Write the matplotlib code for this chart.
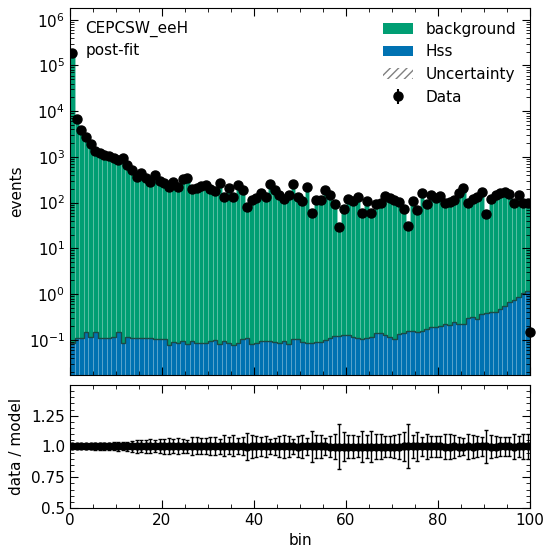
import numpy as np
import matplotlib
matplotlib.use("Agg")
import matplotlib.pyplot as plt
from matplotlib.ticker import AutoMinorLocator, FixedLocator, FixedFormatter, LogLocator, NullFormatter
from matplotlib.patches import Patch

# observed events per bin (100 bins, 0..100)
data = [190000, 6820, 3920, 2750, 1940, 1360, 1230, 1110, 1030, 955,
        865, 955, 672, 522, 367, 449, 349, 285, 406, 300,
        271, 222, 285, 222, 332, 349, 200, 211, 233, 245,
        200, 181, 271, 134, 211, 134, 245, 191, 81, 115,
        127, 164, 134, 258, 191, 148, 121, 148, 258, 134,
        109, 222, 60, 115, 115, 191, 148, 94, 30, 73,
        121, 109, 134, 60, 109, 60, 94, 99, 141, 127,
        115, 104, 73, 31, 109, 70, 164, 94, 148, 127,
        141, 99, 104, 115, 164, 211, 99, 121, 134, 172,
        57, 121, 148, 164, 172, 156, 99, 148, 99, 99]

# post-fit background prediction
background = [189990, 6815, 3915, 2748, 1938, 1359, 1229, 1109, 1029, 954,
              864, 954, 671, 521, 366, 448, 348, 284, 405, 299,
              270, 221, 284, 221, 331, 348, 199, 210, 232, 244,
              199, 180, 270, 133, 210, 133, 244, 190, 80.9, 114.9,
              126.9, 163.9, 133.9, 257.9, 190.9, 147.9, 120.9, 147.9, 257.9, 133.9,
              108.9, 221.9, 59.9, 114.9, 114.9, 190.9, 147.9, 93.9, 29.9, 72.9,
              120.9, 108.9, 133.9, 59.9, 108.9, 59.9, 93.9, 98.9, 140.9, 126.9,
              114.9, 103.9, 72.8, 30.8, 108.8, 69.8, 163.8, 93.8, 147.8, 126.8,
              140.8, 98.8, 103.8, 114.7, 163.8, 210.8, 98.7, 120.7, 133.7, 171.6,
              56.6, 120.6, 147.6, 163.5, 171.4, 155.3, 98.3, 147.1, 97.9, 97.8]

# post-fit Hss signal prediction
hss = [0.087, 0.108, 0.108, 0.147, 0.118, 0.145, 0.108, 0.112, 0.112, 0.118,
       0.147, 0.084, 0.118, 0.112, 0.112, 0.112, 0.110, 0.108, 0.103, 0.103,
       0.103, 0.077, 0.089, 0.087, 0.096, 0.081, 0.092, 0.087, 0.084, 0.087,
       0.092, 0.0996, 0.080, 0.092, 0.087, 0.077, 0.084, 0.103, 0.108, 0.081,
       0.084, 0.096, 0.096, 0.092, 0.089, 0.087, 0.092, 0.081, 0.103, 0.103,
       0.091, 0.084, 0.087, 0.091, 0.091, 0.0995, 0.108, 0.124, 0.122, 0.128,
       0.128, 0.118, 0.108, 0.105, 0.108, 0.118, 0.144, 0.144, 0.128, 0.118,
       0.103, 0.135, 0.139, 0.157, 0.157, 0.151, 0.157, 0.170, 0.195, 0.195,
       0.201, 0.223, 0.212, 0.251, 0.223, 0.223, 0.296, 0.322, 0.282, 0.363,
       0.394, 0.415, 0.415, 0.475, 0.552, 0.687, 0.747, 0.883, 1.08, 1.18]

# stray data point drawn on the right edge
edge_x = 100
edge_y = 0.15

plt.rcParams['font.size'] = 11

edges = np.arange(0, 101)
centers = edges[:-1] + 0.5
data = np.array(data, dtype=float)
background = np.array(background, dtype=float)
hss = np.array(hss, dtype=float)
model = background + hss

green = '#009E73'
blue = '#0072B2'

fig = plt.figure(figsize=(5.51, 5.55), dpi=100)
ax = fig.add_axes([0.127, 0.3243, 0.835, 0.6613])
rax = fig.add_axes([0.127, 0.0847, 0.835, 0.2216])

ax.bar(centers, hss, width=1, color=blue, edgecolor=(1, 1, 1, 0.12), linewidth=0.6)
ax.bar(centers, background, width=1, bottom=hss, color=green, edgecolor=(1, 1, 1, 0.12), linewidth=0.6)
ax.stairs(hss, edges, color='#1d4a45', linewidth=1.0)
ax.stairs(model + np.sqrt(model) * 0.01, edges, baseline=model - np.sqrt(model) * 0.01,
          fill=True, facecolor='none', hatch='////', edgecolor='grey', linewidth=0)
ax.errorbar(centers, data, yerr=np.sqrt(data), fmt='o', color='black', ms=6.5, elinewidth=1)
ax.plot([edge_x], [edge_y], 'o', color='black', ms=6.5, clip_on=False, zorder=5)

ax.set_yscale('log')
ax.set_xlim(0, 100)
ax.set_ylim(0.017, 1.8e6)
ax.set_ylabel('events')
ax.yaxis.set_label_coords(-0.1, 0.5)
ax.yaxis.set_major_locator(LogLocator(base=10, numticks=20))
ax.yaxis.set_minor_locator(LogLocator(base=10, subs=np.arange(2, 10), numticks=20))
ax.yaxis.set_minor_formatter(NullFormatter())
ax.xaxis.set_minor_locator(AutoMinorLocator())
ax.tick_params(labelbottom=False)

ax.text(0.033, 0.965, 'CEPCSW_eeH', transform=ax.transAxes, va='top', ha='left')
ax.text(0.033, 0.905, 'post-fit', transform=ax.transAxes, va='top', ha='left')

handles = [Patch(facecolor=green, label='background'),
           Patch(facecolor=blue, label='Hss'),
           Patch(facecolor='none', hatch='////', edgecolor='grey', linewidth=0, label='Uncertainty'),
           ax.errorbar([], [], yerr=[], fmt='o', color='black', ms=6.5, label='Data')]
ax.legend(handles=handles, loc='upper right', frameon=False, handlelength=2.0)

ratio = data / model
rerr = np.sqrt(data) / model
rax.errorbar(centers, ratio, yerr=rerr, xerr=0.5, fmt='o', color='black', ms=5,
             elinewidth=1, capsize=1.5)
rax.set_xlim(0, 100)
rax.set_ylim(0.5, 1.5)
rax.yaxis.set_major_locator(FixedLocator([0.5, 0.75, 1.0, 1.25]))
rax.yaxis.set_major_formatter(FixedFormatter(['0.5', '0.75', '1.0', '1.25']))
rax.yaxis.set_minor_locator(AutoMinorLocator(5))
rax.xaxis.set_minor_locator(AutoMinorLocator())
rax.set_xlabel('bin')
rax.set_ylabel('data / model')
rax.yaxis.set_label_coords(-0.1, 0.5)

for a in (ax, rax):
    a.tick_params(which='both', direction='in', top=True, right=True)
    a.tick_params(which='major', length=6)
    a.tick_params(which='minor', length=3)

fig.savefig('out.png', dpi=100)
